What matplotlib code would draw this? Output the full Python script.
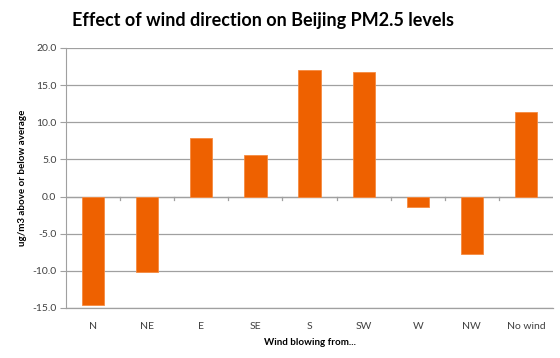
import matplotlib
matplotlib.use("Agg")
import matplotlib.pyplot as plt
import numpy as np

categories = ["N", "NE", "E", "SE", "S", "SW", "W", "NW", "No wind"]
values = [-14.6, -10.1, 7.9, 5.6, 17.0, 16.8, -1.4, -7.7, 11.4]
yticks = [-15.0, -10.0, -5.0, 0.0, 5.0, 10.0, 15.0, 20.0]

plt.rcParams['font.family'] = ['Lato', 'DejaVu Sans']

fig = plt.figure(figsize=(5.6, 3.58), dpi=100)
ax = fig.add_axes([0.118, 0.1397, 0.8695, 0.7263])

x = np.arange(len(categories))
ax.bar(x, values, width=0.41, color="#EE6100", edgecolor="#F58A40", linewidth=0.6, zorder=3)

ax.set_ylim(-15, 20)
ax.set_xlim(-0.5, len(categories) - 0.5)
ax.set_yticks(yticks)
ax.set_yticklabels([f"{v:.1f}" for v in yticks], fontsize=7.5, color="#404040")
ax.yaxis.grid(True, color="#A0A0A0", linewidth=0.9, zorder=0)

ax.set_xticks(x)
ax.set_xticklabels(categories, fontsize=7.5, color="#404040")
ax.tick_params(axis='x', length=0, pad=10)
ax.tick_params(axis='y', length=4, color="#A0A0A0", direction='out', pad=3)
# minor ticks between categories on the zero line
for b in np.arange(0.5, len(categories) - 0.5, 1.0):
    ax.plot([b, b], [0, -0.5], color="#A0A0A0", linewidth=0.9, zorder=2)

for s in ["top", "right", "bottom"]:
    ax.spines[s].set_visible(False)
ax.spines["left"].set_color("#A0A0A0")
ax.axhline(0, color="#A0A0A0", linewidth=0.9, zorder=2)
ax.axhline(-15, color="#A0A0A0", linewidth=0.9, zorder=2, clip_on=False)

ax.set_ylabel("ug/m3 above or below average", fontsize=7, fontweight="bold", labelpad=4)
ax.set_xlabel("Wind blowing from...", fontsize=7, fontweight="bold", labelpad=5)

fig.text(0.47, 0.943, "Effect of wind direction on Beijing PM2.5 levels",
         ha="center", va="center", fontsize=13, fontweight="bold")

fig.savefig("out.png", dpi=100)
